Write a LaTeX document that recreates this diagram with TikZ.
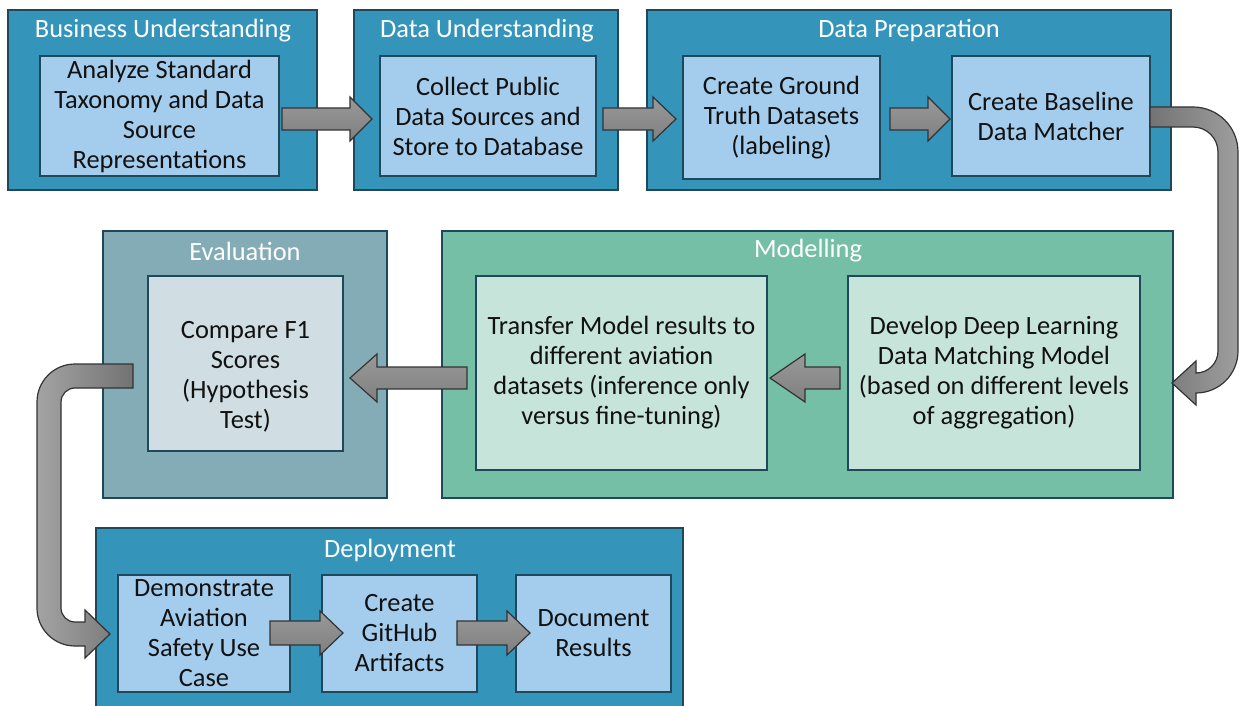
\documentclass[tikz,border=0pt]{standalone}
\usepackage{fontspec}
\setmainfont{Carlito}
\usetikzlibrary{fit}
\definecolor{outerblue}{HTML}{3494BA}
\definecolor{innerblue}{HTML}{A4CDED}
\definecolor{outergreen}{HTML}{76BFA7}
\definecolor{innergreen}{HTML}{C7E4DA}
\definecolor{outergray}{HTML}{84ACB6}
\definecolor{innergray}{HTML}{D0DEE3}
\definecolor{edgec}{HTML}{1F485A}
\definecolor{arrowedge}{HTML}{333333}
\definecolor{txt}{HTML}{111111}
\begin{document}
\begin{tikzpicture}[x=0.5pt,y=-0.5pt,
  every node/.style={font=\fontsize{13.2}{15}\selectfont},
  frame/.style={draw=edgec, line width=0.75pt, inner sep=0pt},
  outerb/.style={frame, fill=outerblue},
  innerb/.style={frame, fill=innerblue, text=txt, align=center},
  outerg/.style={frame, fill=outergreen},
  innerg/.style={frame, fill=innergreen, text=txt, align=center},
  outerk/.style={frame, fill=outergray},
  innerk/.style={frame, fill=innergray, text=txt, align=center},
  title/.style={text=white, inner sep=0pt},
  btext/.style={text=txt, align=center, inner sep=0pt},
  blockarrow/.style={draw=arrowedge, line width=0.6pt, top color=black!40, bottom color=black!50},
  curvearrowR/.style={draw=arrowedge, line width=0.6pt, left color=black!55, right color=black!38},
  curvearrowL/.style={draw=arrowedge, line width=0.6pt, left color=black!36, right color=black!55}
]
\useasboundingbox (0,0) rectangle (1239,706);
\fill[white] (0,0) rectangle (1239,706);

% outer frames
\node[outerb, fit={(8,10) (317,190)}] (bu) {};
\node[outerb, fit={(354,10) (618,190)}] (du) {};
\node[outerb, fit={(647,10) (1171,190)}] (dp) {};
\node[outerk, fit={(103,231) (387,498)}] (ev) {};
\node[outerg, fit={(442,231) (1173,498)}] (mo) {};
\node[outerb, fit={(96,528) (683,716)}] (de) {};

% titles
\node[title] (tbu) at (163,31) {Business Understanding};
\node[title] (tdu) at (487,31) {Data Understanding};
\node[title] (tdp) at (909,31) {Data Preparation};
\node[title] (tev) at (245,251) {Evaluation};
\node[title] (tmo) at (808,251) {Modelling};
\node[title] (tde) at (390,550) {Deployment};

% inner boxes
\node[innerb, minimum width=119.5pt, minimum height=60pt] (bu1) at (159.5,116) {Analyze Standard\\Taxonomy and Data\\Source\\Representations};
\node[innerb, minimum width=108pt, minimum height=60pt] (du1) at (488,116) {Collect Public\\Data Sources and\\Store to Database};
\node[innerb, minimum width=98.5pt, minimum height=61.5pt] (dp1) at (781.5,117.5) {Create Ground\\Truth Datasets\\(labeling)};
\node[innerb, minimum width=99pt, minimum height=60pt] (dp2) at (1051,116) {Create Baseline\\Data Matcher};
\node[innerk, minimum width=97.5pt, minimum height=87.5pt] (ev1) at (245.5,363.5) {};
\node[btext] (ev1t) at (245.5,377) {Compare F1\\Scores\\(Hypothesis\\Test)};
\node[innerg, minimum width=145.5pt, minimum height=97pt] (mo1) at (621.5,373) {Transfer Model results to\\different aviation\\datasets (inference only\\versus fine-tuning)};
\node[innerg, minimum width=146pt, minimum height=97pt] (mo2) at (994,373) {Develop Deep Learning\\Data Matching Model\\(based on different levels\\of aggregation)};
\node[innerb, minimum width=86pt, minimum height=58.5pt] (de1) at (204,633.5) {Demonstrate\\Aviation\\Safety Use\\Case};
\node[innerb, minimum width=77.5pt, minimum height=58.5pt] (de2) at (399.5,633.5) {Create\\GitHub\\Artifacts};
\node[innerb, minimum width=77.5pt, minimum height=58.5pt] (de3) at (593.5,633.5) {Document\\Results};

% straight block arrows (bu1 -> du1, du1 -> dp1, dp1 -> dp2)
\shadedraw[blockarrow] (282,108) -- (350,108) -- (350,97) -- (372,119) -- (350,141) -- (350,130) -- (282,130) -- cycle;
\shadedraw[blockarrow] (603,108) -- (653,108) -- (653,97) -- (676,119) -- (653,141) -- (653,130) -- (603,130) -- cycle;
\shadedraw[blockarrow] (890,108) -- (928,108) -- (928,97) -- (950,119) -- (928,141) -- (928,130) -- (890,130) -- cycle;
% mo2 -> mo1, mo1 -> ev1
\shadedraw[blockarrow] (840,367) -- (805,367) -- (805,354) -- (770,378) -- (805,402) -- (805,389) -- (840,389) -- cycle;
\shadedraw[blockarrow] (467,367) -- (377,367) -- (377,354) -- (350,378) -- (377,402) -- (377,389) -- (467,389) -- cycle;
% de1 -> de2, de2 -> de3
\shadedraw[blockarrow] (270,621) -- (320,621) -- (320,611) -- (343,633) -- (320,655) -- (320,645) -- (270,645) -- cycle;
\shadedraw[blockarrow] (457,621) -- (507,621) -- (507,611) -- (530,633) -- (507,655) -- (507,645) -- (457,645) -- cycle;

% curved arrow dp2 -> mo2
\shadedraw[curvearrowR] (1150,107) -- (1193,107)
  .. controls (1217.9,107) and (1238,127.1) .. (1238,152)
  -- (1238,351) .. controls (1238,374.2) and (1219.2,393) .. (1196,393)
  -- (1196,405) -- (1172,383) -- (1196,361) -- (1196,373)
  .. controls (1208.2,373) and (1218,363.2) .. (1218,351)
  -- (1218,152) .. controls (1218,138.2) and (1206.8,127) .. (1193,127)
  -- (1150,127) -- cycle;

% curved arrow ev1 -> de1
\shadedraw[curvearrowL] (133,364) -- (75,364)
  .. controls (54,364) and (37,381) .. (37,402)
  -- (37,608) .. controls (37,629) and (54,646) .. (75,646)
  -- (85,646) -- (85,658) -- (110,634) -- (85,610) -- (85,622) -- (75,622)
  .. controls (67.3,622) and (61,615.7) .. (61,608)
  -- (61,402) .. controls (61,394.3) and (67.3,388) .. (75,388)
  -- (133,388) -- cycle;
\end{tikzpicture}
\end{document}
